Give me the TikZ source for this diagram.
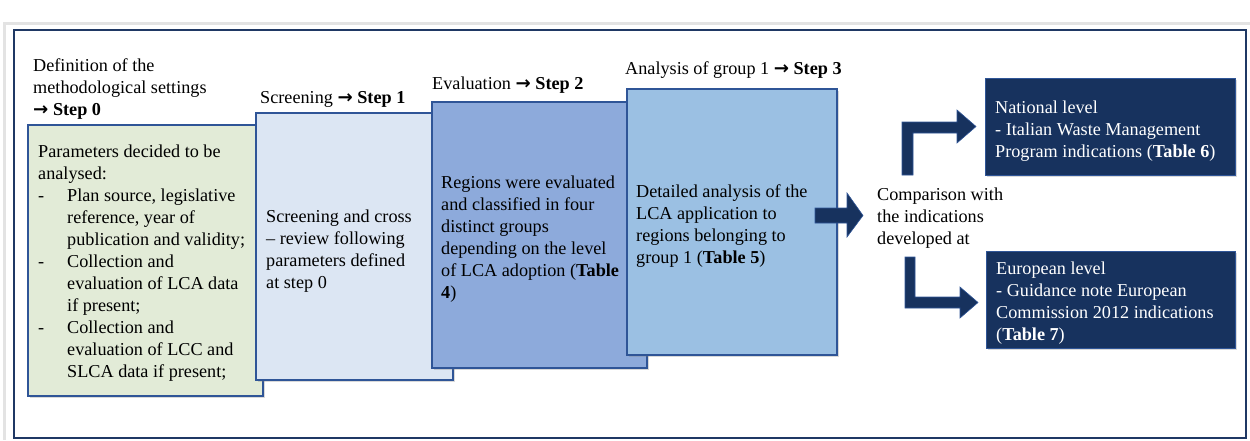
\documentclass[tikz,border=0pt]{standalone}
\usepackage{fontspec}
\setmainfont{Liberation Serif}
\newfontfamily\arrowfont{DejaVu Sans}
\usetikzlibrary{shadows}
\definecolor{navy}{HTML}{17325E}
\definecolor{frameblue}{HTML}{1F3864}
\definecolor{edgeblue}{HTML}{2F5597}
\definecolor{greenfill}{HTML}{E2EBD7}
\definecolor{onefill}{HTML}{DCE6F3}
\definecolor{twofill}{HTML}{8DAADB}
\definecolor{threefill}{HTML}{9BC0E3}
\newcommand{\rarr}{{\arrowfont\bfseries →}}
\newcommand{\ditem}{\makebox[29pt][l]{-}}
\newcommand{\iitem}{\hspace*{29pt}}
\begin{document}
\begin{tikzpicture}[x=1pt,y=-1pt,
  every node/.style={font=\fontsize{18.2}{22}\selectfont, inner sep=0pt},
  stepbox/.style={draw=edgeblue, line width=1.3pt, drop shadow={shadow xshift=2pt, shadow yshift=-2pt, opacity=0.3}},
  txt/.style={align=left, anchor=north west},
  lbl/.style={anchor=base west},
  darkbox/.style={fill=navy, draw=edgeblue, line width=1pt, drop shadow={shadow xshift=2pt, shadow yshift=-2pt, opacity=0.3}},
  blockarrow/.style={fill=navy, draw=edgeblue, line width=0.6pt}]
\useasboundingbox (0,0) rectangle (1250,440);
% page edges
\draw[gray!22, line width=3pt] (4,440) -- (4,23) -- (1250,23);
% frame
\draw[frameblue, line width=2pt] (14,30) rectangle (1246,438);

% boxes
\path[stepbox, fill=greenfill] (28,125) rectangle (263,396);
\node[lbl] (t0) at (33,71) {Definition of the};
\node[lbl] (t0b) at (33,93) {methodological settings};
\node[lbl] (t0c) at (33,115) {\rarr\ \textbf{Step 0}};
\node[txt] (b0) at (38,145) {Parameters decided to be\\analysed:\\
\ditem Plan source, legislative\\\iitem reference, year of\\\iitem publication and validity;\\
\ditem Collection and\\\iitem evaluation of LCA data\\\iitem if present;\\
\ditem Collection and\\\iitem evaluation of LCC and\\\iitem SLCA data if present;};

\path[stepbox, fill=onefill] (256,113) rectangle (453,380);
\node[lbl] (t1) at (260,103) {Screening \rarr\ \textbf{Step 1}};
\node[txt] (b1) at (266,210) {Screening and cross\\– review following\\parameters defined\\at step 0};

\path[stepbox, fill=twofill] (432,102) rectangle (647,368);
\node[lbl] (t2) at (432,89) {Evaluation \rarr\ \textbf{Step 2}};
\node[txt] (b2) at (441,176) {Regions were evaluated\\and classified in four\\distinct groups\\depending on the level\\of LCA adoption (\textbf{Table}\\\textbf{4})};

\path[stepbox, fill=threefill] (627,89) rectangle (837,355);
\node[lbl] (t3) at (625,74) {Analysis of group 1 \rarr\ \textbf{Step 3}};
\node[txt] (b3) at (636,184) {Detailed analysis of the\\LCA application to\\regions belonging to\\group 1 (\textbf{Table 5})};

% main arrow
\path[blockarrow] (815,208) -- (847,208) -- (847,193) -- (863,215.5) -- (847,237) -- (847,223) -- (815,223) -- cycle;
\node[txt] (cmp) at (877,188) {Comparison with\\the indications\\developed at};

% upper bent arrow
\path[blockarrow] (902,175) -- (902,122) -- (957,122) -- (957,110) -- (976,126.5) -- (957,143) -- (957,133) -- (913,133) -- (913,175) -- cycle;
% lower bent arrow
\path[blockarrow] (905,257) -- (905,308) -- (960,308) -- (960,318) -- (978,302.5) -- (960,287) -- (960,297) -- (915,297) -- (915,257) -- cycle;

\path[darkbox] (985,78) rectangle (1235,175);
\node[txt, text=white] (nat) at (995,101) {National level\\- Italian Waste Management\\Program indications (\textbf{Table 6})};
\path[darkbox] (986,251) rectangle (1235,348);
\node[txt, text=white] (eur) at (996,262) {European level\\- Guidance note European\\Commission 2012 indications\\(\textbf{Table 7})};
\end{tikzpicture}
\end{document}
